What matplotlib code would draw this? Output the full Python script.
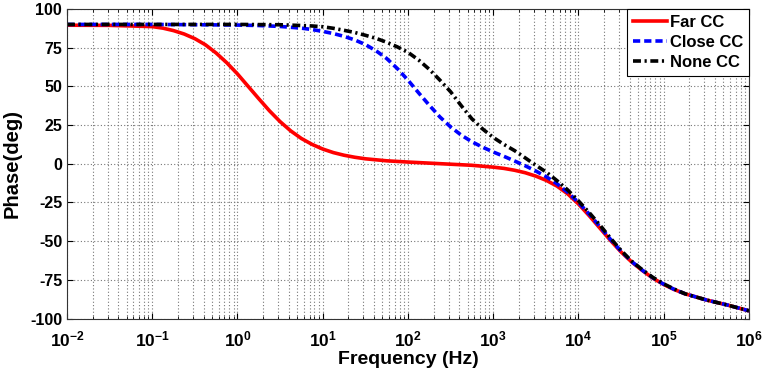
import numpy as np
import matplotlib
matplotlib.use('Agg')
import matplotlib.pyplot as plt
from matplotlib.ticker import FixedLocator, FixedFormatter, LogLocator, NullFormatter

# Точки кривых (log10 частоты, фаза в градусах)
far_logf = [-2.0, -1.5, -1.0, -0.875, -0.75, -0.625, -0.5, -0.375, -0.25, -0.125,
            0.0, 0.125, 0.25, 0.375, 0.5, 0.625, 0.75, 0.875, 1.0, 1.125, 1.25,
            1.375, 1.5, 1.75, 2.0, 2.25, 2.5, 2.75, 3.0, 3.125, 3.25, 3.375, 3.5,
            3.625, 3.75, 3.875, 4.0, 4.125, 4.25, 4.375, 4.5, 4.625, 4.75, 4.875,
            5.0, 5.125, 5.25, 5.5, 5.75, 6.0]
far_phase = [89.5, 89.4, 88.6, 87.6, 86.0, 83.8, 80.8, 76.8, 71.5, 65.2,
             58.0, 50.0, 42.0, 34.2, 27.2, 21.2, 16.3, 12.5, 9.5, 7.2, 5.5,
             4.2, 3.2, 1.9, 1.1, 0.4, -0.3, -1.0, -2.2, -3.0, -4.2, -5.8, -8.0,
             -10.8, -14.5, -19.5, -26.0, -33.5, -41.5, -49.5, -57.0, -63.5, -69.0, -74.0,
             -78.0, -81.3, -84.0, -88.0, -91.3, -95.0]

close_logf = [-2.0, -1.0, 0.0, 0.25, 0.5, 0.75, 0.875, 1.0, 1.125, 1.25, 1.375,
              1.5, 1.625, 1.75, 1.875, 2.0, 2.125, 2.25, 2.375, 2.5, 2.625, 2.75,
              2.875, 3.0, 3.125, 3.25, 3.375, 3.5, 3.625, 3.75, 3.875, 4.0, 4.125,
              4.25, 4.375, 4.5, 4.625, 4.75, 4.875, 5.0, 5.125, 5.25, 5.5, 5.75, 6.0]
close_phase = [90.0, 90.0, 89.6, 89.3, 88.7, 87.6, 86.7, 85.5, 84.1, 82.3, 80.0,
               77.0, 73.0, 68.0, 61.5, 54.0, 45.8, 37.8, 30.2, 23.8, 18.5, 14.2,
               10.7, 7.6, 4.8, 1.8, -1.3, -4.7, -8.5, -13.0, -18.5, -25.0, -32.5,
               -40.5, -48.8, -56.5, -63.2, -68.8, -73.8, -77.8, -81.2, -84.0, -88.0, -91.3, -95.0]

none_logf = [-2.0, 0.0, 0.5, 0.75, 0.875, 1.0, 1.125, 1.25, 1.375, 1.5, 1.625,
             1.75, 1.875, 2.0, 2.125, 2.25, 2.375, 2.5, 2.625, 2.75, 2.875, 3.0,
             3.125, 3.25, 3.375, 3.5, 3.625, 3.75, 3.875, 4.0, 4.125, 4.25, 4.375,
             4.5, 4.625, 4.75, 4.875, 5.0, 5.125, 5.25, 5.5, 5.75, 6.0]
none_phase = [90.0, 90.0, 89.8, 89.3, 89.0, 88.5, 87.5, 86.2, 84.8, 83.0, 81.0,
              78.5, 75.5, 72.0, 67.0, 61.0, 54.0, 46.5, 37.5, 29.0, 22.5, 17.0,
              12.5, 8.5, 3.8, -1.0, -5.5, -11.0, -17.0, -24.0, -31.5, -39.5, -48.0,
              -56.0, -63.0, -68.5, -73.5, -77.6, -81.0, -84.0, -88.0, -91.3, -95.0]

series_names = ['Far CC', 'Close CC', 'None CC']

xtick_values = [1e-2, 1e-1, 1e0, 1e1, 1e2, 1e3, 1e4, 1e5, 1e6]
xtick_labels = [r'$10^{-2}$', r'$10^{-1}$', r'$10^{0}$', r'$10^{1}$', r'$10^{2}$',
                r'$10^{3}$', r'$10^{4}$', r'$10^{5}$', r'$10^{6}$']
ytick_values = [-100, -75, -50, -25, 0, 25, 50, 75, 100]
ytick_labels = ['-100', '-75', '-50', '-25', '0', '25', '50', '75', '100']

plt.rcParams['font.family'] = ['Liberation Sans', 'DejaVu Sans']
plt.rcParams['font.weight'] = 'bold'
plt.rcParams['mathtext.fontset'] = 'custom'
plt.rcParams['mathtext.rm'] = 'Liberation Sans:bold'
plt.rcParams['mathtext.it'] = 'Liberation Sans:bold'
plt.rcParams['mathtext.bf'] = 'Liberation Sans:bold'

fig = plt.figure(figsize=(7.65, 3.73), dpi=100)
ax = fig.add_axes([0.0876, 0.146, 0.8914, 0.830])

ax.plot(10.0 ** np.array(far_logf), far_phase, color='#ff0000', lw=2.6,
        label=series_names[0])
ax.plot(10.0 ** np.array(close_logf), close_phase, color='#0000ff', lw=2.6,
        dashes=(2.0, 1.1), label=series_names[1])
ax.plot(10.0 ** np.array(none_logf), none_phase, color='black', lw=2.6,
        dashes=(2.2, 1.0, 0.6, 1.0), label=series_names[2])

ax.set_xscale('log')
ax.set_xlim(1e-2, 1e6)
ax.set_ylim(-100, 100)

ax.xaxis.set_major_locator(FixedLocator(xtick_values))
ax.xaxis.set_major_formatter(FixedFormatter(xtick_labels))
ax.xaxis.set_minor_locator(LogLocator(base=10, subs=np.arange(2, 10), numticks=20))
ax.xaxis.set_minor_formatter(NullFormatter())
ax.yaxis.set_major_locator(FixedLocator(ytick_values))
ax.yaxis.set_major_formatter(FixedFormatter(ytick_labels))

ax.tick_params(which='both', direction='in', top=True, right=True, colors='black')
ax.tick_params(which='major', length=4)
ax.tick_params(which='minor', length=2.5)
ax.tick_params(axis='y', labelsize=11.5)
ax.tick_params(axis='x', labelsize=12.5, pad=8)

ax.grid(which='major', linestyle=(0, (1, 2)), color='#777777', lw=0.8)
ax.grid(which='minor', axis='x', linestyle=(0, (1, 2)), color='#777777', lw=0.8)
for sp in ax.spines.values():
    sp.set_color('#333333')
    sp.set_linewidth(0.8)

ax.set_xlabel('Frequency (Hz)', fontsize=14, fontweight='bold', labelpad=1)
ax.set_ylabel('Phase(deg)', fontsize=14.5, fontweight='bold', labelpad=6)

leg = ax.legend(loc='upper right', fontsize=12, handlelength=2.0,
                handletextpad=0.2, labelspacing=0.3, borderpad=0.35,
                borderaxespad=0.0, fancybox=False, framealpha=1.0,
                edgecolor='black')
leg.get_frame().set_linewidth(0.8)

plt.savefig('out.png', dpi=100)
